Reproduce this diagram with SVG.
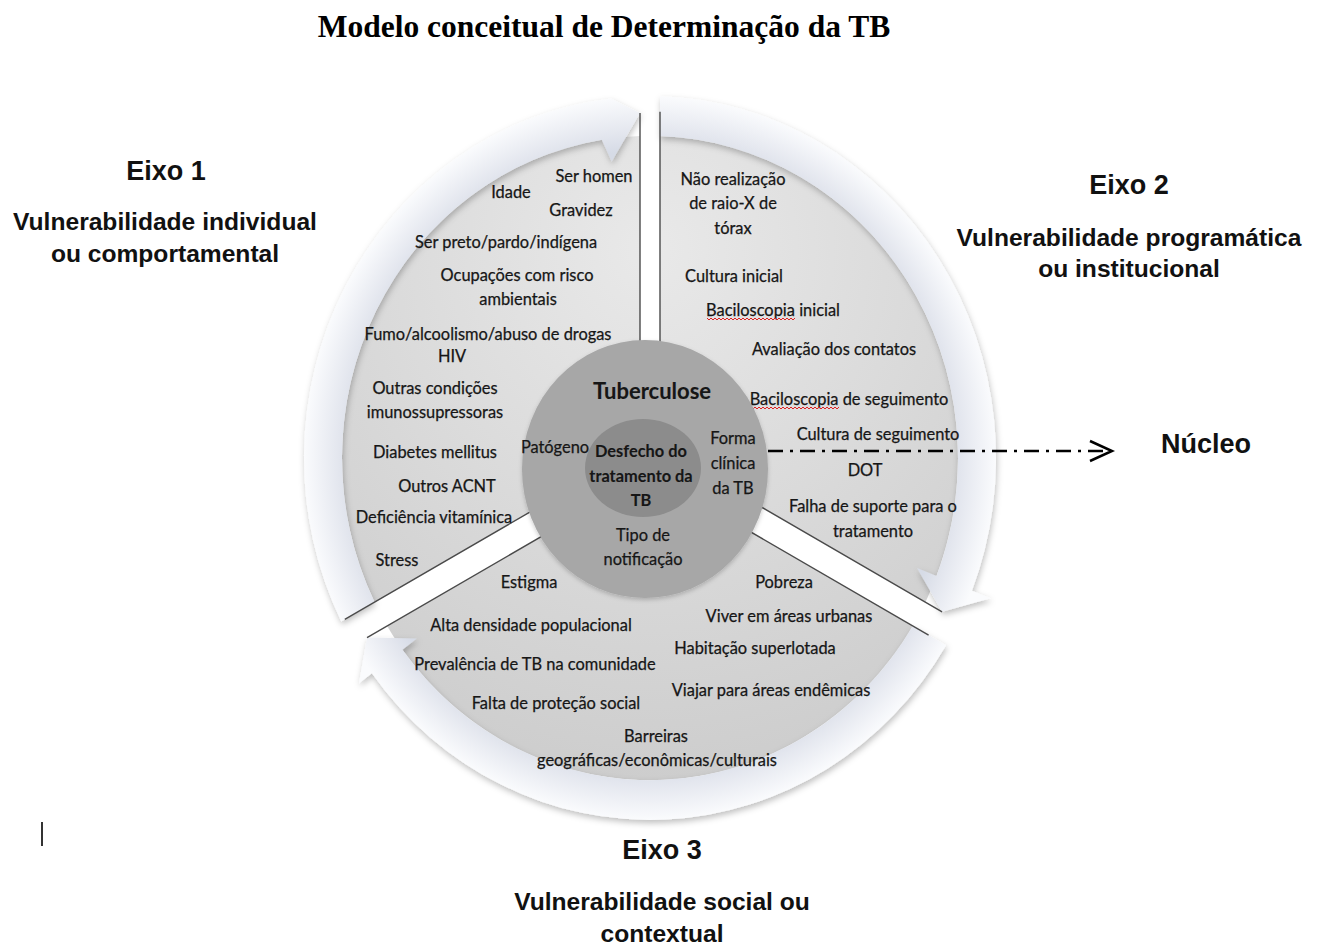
<svg xmlns="http://www.w3.org/2000/svg" width="1318" height="947" viewBox="0 0 1318 947">
<style>
.t{font-family:Lato,"Liberation Sans",sans-serif;font-size:16.4px;fill:#161616;stroke:#161616;stroke-width:0.25;text-anchor:middle}
.tb{font-weight:bold;stroke-width:0.1}
.ax{font-family:"Liberation Sans",Arial,sans-serif;font-weight:bold;fill:#111;text-anchor:middle}
.sec{fill:url(#gSec)}
.band{fill:url(#gBand);filter:url(#sh)}
.edge{fill:none;stroke:#4a4a4a;stroke-width:1.4}
.sq{fill:none;stroke:#e02020;stroke-width:1}
</style>
<defs>
<radialGradient id="gSec" gradientUnits="userSpaceOnUse" cx="0" cy="-200" r="600">
<stop offset="0" stop-color="#e9e9e9"/>
<stop offset="1" stop-color="#c8c8c8"/>
</radialGradient>
<radialGradient id="gBand" gradientUnits="userSpaceOnUse" cx="0" cy="0" r="346">
<stop offset="0.85" stop-color="#d6dbe6"/>
<stop offset="0.9" stop-color="#e3e6ee"/>
<stop offset="1" stop-color="#fafbfd"/>
</radialGradient>
<filter id="sh" x="-20%" y="-20%" width="140%" height="140%">
<feDropShadow dx="1" dy="3" stdDeviation="3" flood-color="#000" flood-opacity="0.25"/>
</filter>
<filter id="sh2" x="-20%" y="-20%" width="140%" height="140%">
<feDropShadow dx="0" dy="2" stdDeviation="2" flood-color="#000" flood-opacity="0.2"/>
</filter>
</defs>
<rect width="1318" height="947" fill="#fff"/>

<text x="604" y="37" style="font-family:'Liberation Serif','Times New Roman',serif;font-weight:bold;font-size:31.5px;fill:#000;text-anchor:middle">Modelo conceitual de Determinação da TB</text>

<g transform="translate(650 458) scale(1 1.046)">
  <g id="eixo1-shape">
    <path class="sec" d="M-10,-9.32 L-275.45,137.82 A308,308 0 0 1 -10,-307.84 Z"/>
    <path class="band" d="M-275.45,137.82 L-308.71,156.26 A346,346 0 0 1 -39.17,-343.78 L-10,-329.85 L-38.32,-283.42 L-48.18,-304.21 A308,308 0 0 0 -275.45,137.82 Z"/>
    <path class="edge" d="M-10,-9.32 L-10,-329.85 M-10,-9.32 L-305.2,154.3"/>
  </g>
  <g id="eixo2-shape">
    <path class="sec" d="M10,-9.32 L10,-307.84 A308,308 0 0 1 275.45,137.82 Z"/>
    <path class="band" d="M10,-307.84 L10,-345.86 A346,346 0 0 1 321.93,126.81 L340.53,134.14 L292.08,147.03 L267.03,105.19 L286.57,112.88 A308,308 0 0 0 10,-307.84 Z"/>
    <path class="edge" d="M10,-9.32 L10,-331 M10,-9.32 L292.08,147.03"/>
  </g>
  <g id="eixo3-shape">
    <path class="sec" d="M0,14.86 L262.85,160.56 A308,308 0 0 1 -262.85,160.56 Z"/>
    <path class="band" d="M262.85,160.56 L296.11,179 A346,346 0 0 1 -278.1,205.8 L-291,215.3 L-282.97,171.72 L-233.1,172.5 L-247.6,183.2 A308,308 0 0 0 262.85,160.56 Z"/>
    <path class="edge" d="M0,14.86 L278.6,169.3 M0,14.86 L-282.97,171.72"/>
  </g>
</g>

<g id="eixo1">
  <text class="t" x="594" y="182">Ser homen</text>
  <text class="t" x="511" y="198">Idade</text>
  <text class="t" x="581" y="216">Gravidez</text>
  <text class="t" x="506" y="248">Ser preto/pardo/indígena</text>
  <text class="t" x="517" y="281">Ocupações com risco</text>
  <text class="t" x="518" y="305">ambientais</text>
  <text class="t" x="488" y="340">Fumo/alcoolismo/abuso de drogas</text>
  <text class="t" x="452" y="362">HIV</text>
  <text class="t" x="435" y="394">Outras condições</text>
  <text class="t" x="435" y="418">imunossupressoras</text>
  <text class="t" x="435" y="458">Diabetes mellitus</text>
  <text class="t" x="447" y="492">Outros ACNT</text>
  <text class="t" x="434" y="523">Deficiência vitamínica</text>
  <text class="t" x="397" y="566">Stress</text>
</g>

<g id="eixo2">
  <text class="t" x="733" y="185">Não realização</text>
  <text class="t" x="733" y="209">de raio-X de</text>
  <text class="t" x="733" y="234">tórax</text>
  <text class="t" x="734" y="282">Cultura inicial</text>
  <text class="t" x="773" y="316">Baciloscopia inicial</text>
  <path class="sq" d="M707,318 l2,2 2,-2 2,2 2,-2 2,2 2,-2 2,2 2,-2 2,2 2,-2 2,2 2,-2 2,2 2,-2 2,2 2,-2 2,2 2,-2 2,2 2,-2 2,2 2,-2 2,2 2,-2 2,2 2,-2 2,2 2,-2 2,2 2,-2 2,2 2,-2 2,2 2,-2 2,2 2,-2 2,2 2,-2 2,2 2,-2 2,2 2,-2 2,2 2,-2"/>
  <text class="t" x="834" y="355">Avaliação dos contatos</text>
  <text class="t" x="849" y="405">Baciloscopia de seguimento</text>
  <path class="sq" d="M751,407 l2,2 2,-2 2,2 2,-2 2,2 2,-2 2,2 2,-2 2,2 2,-2 2,2 2,-2 2,2 2,-2 2,2 2,-2 2,2 2,-2 2,2 2,-2 2,2 2,-2 2,2 2,-2 2,2 2,-2 2,2 2,-2 2,2 2,-2 2,2 2,-2 2,2 2,-2 2,2 2,-2 2,2 2,-2 2,2 2,-2 2,2 2,-2 2,2 2,-2"/>
  <text class="t" x="878" y="440">Cultura de seguimento</text>
  <text class="t" x="865" y="476">DOT</text>
  <text class="t" x="873" y="512">Falha de suporte para o</text>
  <text class="t" x="873" y="537">tratamento</text>
</g>

<g id="eixo3">
  <text class="t" x="529" y="588">Estigma</text>
  <text class="t" x="784" y="588">Pobreza</text>
  <text class="t" x="789" y="622">Viver em áreas urbanas</text>
  <text class="t" x="531" y="631">Alta densidade populacional</text>
  <text class="t" x="755" y="654">Habitação superlotada</text>
  <text class="t" x="535" y="670">Prevalência de TB na comunidade</text>
  <text class="t" x="771" y="696">Viajar para áreas endêmicas</text>
  <text class="t" x="556" y="709">Falta de proteção social</text>
  <text class="t" x="656" y="742">Barreiras</text>
  <text class="t" x="657" y="766">geográficas/econômicas/culturais</text>
</g>

<g id="nucleo">
  <ellipse cx="645" cy="469" rx="123" ry="129" fill="#a7a7a7" filter="url(#sh2)"/>
  <ellipse cx="643" cy="468" rx="58" ry="49" fill="#8c8c8c"/>
  <text class="t tb" x="652" y="399" style="font-size:22px">Tuberculose</text>
  <text class="t" x="555" y="453">Patógeno</text>
  <text class="t tb" x="641" y="457">Desfecho do</text>
  <text class="t tb" x="641" y="482">tratamento da</text>
  <text class="t tb" x="641" y="506">TB</text>
  <text class="t" x="733" y="444">Forma</text>
  <text class="t" x="733" y="469">clínica</text>
  <text class="t" x="733" y="494">da TB</text>
  <text class="t" x="643" y="541">Tipo de</text>
  <text class="t" x="643" y="565">notificação</text>
</g>

<g id="labels">
  <text class="ax" x="166" y="180" style="font-size:27px">Eixo 1</text>
  <text class="ax" x="165" y="230" style="font-size:24.6px">Vulnerabilidade individual</text>
  <text class="ax" x="165" y="262" style="font-size:24.6px">ou comportamental</text>
  <text class="ax" x="1129" y="194" style="font-size:27px">Eixo 2</text>
  <text class="ax" x="1129" y="246" style="font-size:24.6px">Vulnerabilidade programática</text>
  <text class="ax" x="1129" y="277" style="font-size:24.6px">ou institucional</text>
  <text class="ax" x="1206" y="453" style="font-size:27px">Núcleo</text>
  <text class="ax" x="662" y="859" style="font-size:27px">Eixo 3</text>
  <text class="ax" x="662" y="910" style="font-size:24.6px">Vulnerabilidade social ou</text>
  <text class="ax" x="662" y="942" style="font-size:24.6px">contextual</text>
</g>

<g id="connectors">
  <line x1="768" y1="451" x2="1108" y2="451" stroke="#000" stroke-width="2.5" stroke-dasharray="15 7 3 7"/>
  <polyline points="1090,441 1112,451 1090,461" fill="none" stroke="#000" stroke-width="2.5"/>
</g>

<line x1="42" y1="822" x2="42" y2="846" stroke="#333" stroke-width="2"/>
</svg>
